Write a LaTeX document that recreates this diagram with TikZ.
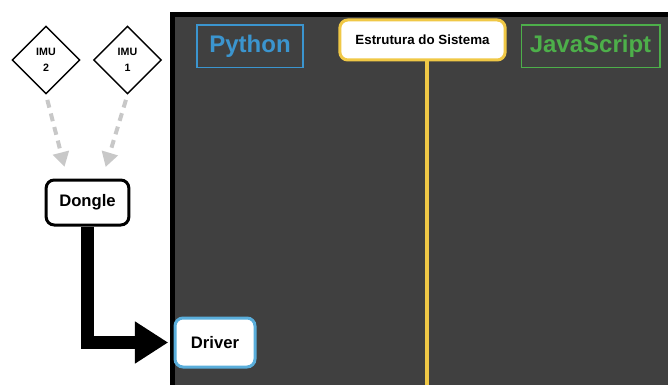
\documentclass[tikz,border=0pt]{standalone}
\usepackage{fontspec}
\setmainfont{Liberation Sans}
\usepackage{xcolor}
\usetikzlibrary{shapes,arrows.meta,positioning}

\definecolor{painel}{RGB}{64,64,64}
\definecolor{azulpy}{RGB}{59,149,207}
\definecolor{verdejs}{RGB}{77,175,74}
\definecolor{amarelo}{RGB}{240,200,70}
\definecolor{azuldrv}{RGB}{90,174,219}
\definecolor{cinza}{RGB}{200,200,200}

\begin{document}
\begin{tikzpicture}[
			x=0.75pt, y=-0.75pt,
			imu/.style={diamond, draw, line width=1.1pt, fill=white, aspect=1, minimum width=51pt, minimum height=51pt, inner sep=0pt, align=center, font=\bfseries\fontsize{8}{12}\selectfont},
			caixa/.style={rectangle, draw, fill=white, rounded corners=6pt, line width=2.25pt, font=\bfseries\fontsize{12.5}{14}\selectfont},
			rotulo/.style={rectangle, draw, line width=1pt, minimum height=32pt, font=\bfseries\fontsize{18}{20}\selectfont},
			tracejada/.style={draw=cinza, line width=3pt, dash pattern=on 6pt off 4.5pt, -{Triangle[length=11pt,width=12pt]}, shorten <=4pt, shorten >=9pt},
			grossa/.style={draw, line width=9.75pt, -{Triangle[length=25pt,width=30pt]}, shorten >=4pt}
			]
			\useasboundingbox (0,0) rectangle (668,385);
			% Fundo
			\draw[line width=3.75pt, fill=painel] (172.5,14.5) rectangle (700,420);
			
			% Nodos
			\node [imu] (imu2) at (46,60) {IMU\\2};
			\node [imu] (imu1) at (127.5,60) {IMU\\1};
			\node [caixa, minimum width=62pt, minimum height=33.75pt] (dongle) at (87.5,202.5) {Dongle};
			\node [caixa, draw=azuldrv, minimum width=60pt, minimum height=36.75pt] (driver) at (215,342.5) {Driver};
			\node [rotulo, draw=azulpy, text=azulpy, minimum width=79.5pt] (python) at (250,46.5) {Python};
			\node [rotulo, draw=verdejs, text=verdejs, minimum width=104pt] (js) at (590.5,46.5) {JavaScript};
			\node [caixa, draw=amarelo, minimum width=124pt, minimum height=30pt, font=\bfseries\fontsize{10}{12}\selectfont] (sistema) at (422.5,40) {Estrutura do Sistema};
			\coordinate (topo) at ([xshift=3.5pt]sistema.south);
			\coordinate (fim) at (topo |- 0,400);
			
			% Conexoes
			\draw [amarelo, line width=3pt] (topo) -- (fim);
			\path [tracejada] (imu2.south) -- ([xshift=-15pt]dongle.north);
			\path [tracejada] (imu1.south) -- ([xshift=11pt]dongle.north);
			\path [grossa] (dongle.south) |- (driver.west);
		\end{tikzpicture}
\end{document}
